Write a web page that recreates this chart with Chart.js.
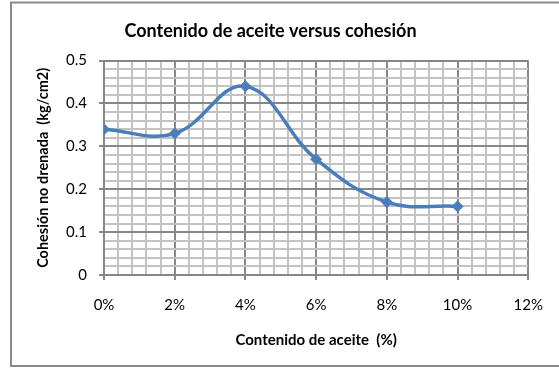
<!DOCTYPE html>
<html>
<head>
<meta charset="utf-8">
<script src="https://cdn.jsdelivr.net/npm/chart.js@4/dist/chart.umd.min.js"></script>
<style>
  html, body { margin: 0; padding: 0; background: #fff; }
  #wrap { width: 559px; height: 368px; }
</style>
</head>
<body>
<div id="wrap"><canvas id="c" width="559" height="368"></canvas></div>
<script>
// Oil content (%) against undrained cohesion (kg/cm2)
const oilContent = [0, 2, 4, 6, 8, 10];
const cohesion = [0.34, 0.33, 0.44, 0.27, 0.17, 0.16];

const chartTitle = 'Contenido de aceite versus cohesión';
const xTitle = 'Contenido de aceite  (%)';
const yTitle = 'Cohesión no drenada  (kg/cm2)';

const FONT = 'Lato, "Liberation Sans", sans-serif';
const MAJOR = '#878787';
const MINOR = '#c3c3c3';
const LINE = '#4a7ebb';

const isMajorX = v => Math.round(v * 10) % 20 === 0;
const isMajorY = v => Math.round(v * 100) % 10 === 0;

// white background and outer frame
const frame = {
  id: 'frame',
  beforeDraw(chart) {
    const ctx = chart.ctx;
    ctx.save();
    ctx.fillStyle = '#fff';
    ctx.fillRect(0, 0, chart.width, chart.height);
    ctx.strokeStyle = '#8a8a8a';
    ctx.lineWidth = 2;
    ctx.strokeRect(11, 2.5, 560, 363.5);
    ctx.restore();
  }
};

new Chart(document.getElementById('c'), {
  type: 'line',
  data: {
    datasets: [{
      data: oilContent.map((x, i) => ({ x: x, y: cohesion[i] })),
      borderColor: LINE,
      backgroundColor: LINE,
      borderWidth: 3.5,
      tension: 0.4,
      pointStyle: 'rectRot',
      pointRadius: 5.5,
      pointBorderWidth: 1,
      fill: false
    }]
  },
  options: {
    responsive: false,
    animation: false,
    events: [],
    layout: { padding: { left: 12, right: 30, top: 0, bottom: 13 } },
    plugins: {
      legend: { display: false },
      tooltip: { enabled: false },
      title: {
        display: true,
        text: chartTitle,
        color: '#000',
        font: { family: FONT, size: 18, weight: 'bold' },
        padding: { top: 20, bottom: 19 }
      }
    },
    scales: {
      x: {
        type: 'linear',
        min: 0,
        max: 12,
        afterFit(s) { s.height = 80; },
        border: { display: true, color: MAJOR, width: 2 },
        grid: {
          color: c => isMajorX(c.tick.value) ? MAJOR : MINOR,
          lineWidth: 2,
          tickLength: 5,
          tickColor: c => isMajorX(c.tick.value) ? MAJOR : 'rgba(0,0,0,0)',
          tickWidth: 2
        },
        ticks: {
          stepSize: 0.4,
          autoSkip: false,
          maxRotation: 0,
          padding: 16,
          color: '#000',
          font: { family: FONT, size: 15 },
          callback: v => isMajorX(v) ? Math.round(v) + '%' : ''
        },
        title: {
          display: true,
          text: xTitle,
          color: '#000',
          font: { family: FONT, size: 15, weight: 'bold' },
          padding: { top: 0, bottom: 6 }
        }
      },
      y: {
        type: 'linear',
        min: 0,
        max: 0.5,
        afterFit(s) { s.width = 92; },
        border: { display: true, color: MAJOR, width: 2 },
        grid: {
          color: c => isMajorY(c.tick.value) ? MAJOR : MINOR,
          lineWidth: 2,
          tickLength: 5,
          tickColor: c => isMajorY(c.tick.value) ? MAJOR : 'rgba(0,0,0,0)',
          tickWidth: 2
        },
        ticks: {
          stepSize: 0.02,
          autoSkip: false,
          padding: 12,
          color: '#000',
          font: { family: FONT, size: 15 },
          callback: v => isMajorY(v) ? (Math.round(v * 10) / 10).toString() : ''
        },
        title: {
          display: true,
          text: yTitle,
          color: '#000',
          font: { family: FONT, size: 14.5, weight: 'bold' },
          padding: { top: 23, bottom: 0 }
        }
      }
    }
  },
  plugins: [frame]
});
</script>
</body>
</html>
